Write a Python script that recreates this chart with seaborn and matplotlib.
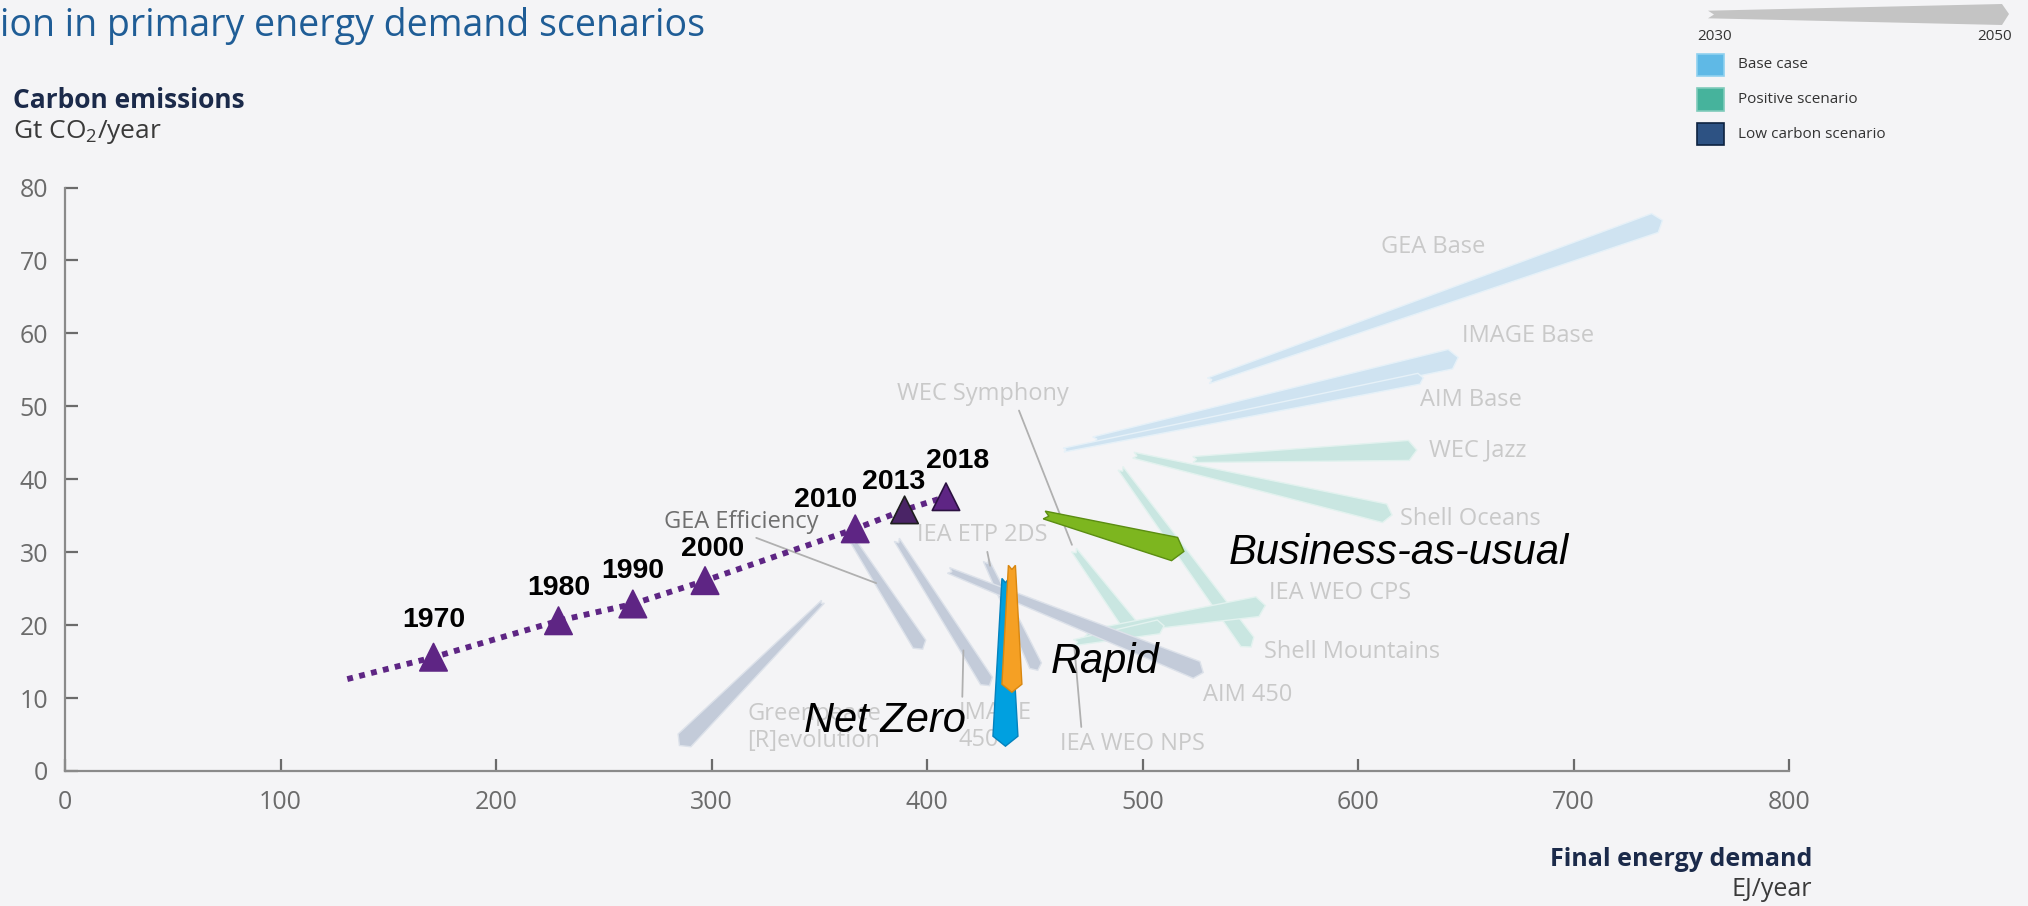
import numpy as np
import matplotlib
matplotlib.use("Agg")
import matplotlib.pyplot as plt
import seaborn as sns
from matplotlib.patches import Polygon

# historical carbon emissions against final energy demand
hist_years = ["1970", "1980", "1990", "2000", "2010", "2013", "2018"]
hist_energy = [171, 229, 263.5, 297, 366.7, 389.6, 408.8]
hist_co2 = [15.6, 20.6, 22.9, 26.1, 33.2, 35.8, 37.6]
trend_energy = [131, 171, 229, 263.5, 297, 366.7, 389.6, 408.8]
trend_co2 = [12.6, 15.6, 20.6, 22.9, 26.1, 33.2, 35.8, 37.6]

# scenario wedges, 2030 point -> 2050 point
scen_names = ["GEA Base", "IMAGE Base", "AIM Base", "WEC Jazz", "Shell Oceans",
              "Shell Mountains", "WEC Symphony", "IEA WEO CPS", "IEA WEO NPS",
              "Greenpeace\n[R]evolution", "GEA Efficiency", "IMAGE\n450",
              "IEA ETP 2DS", "AIM 450", "Business-as-usual", "Net Zero", "Rapid"]
scen_group = ["base", "base", "base", "positive", "positive",
              "positive", "positive", "positive", "positive",
              "low", "low", "low", "low", "low", "bau", "netzero", "rapid"]
scen_x2030 = [530.6, 477.2, 463.4, 523.4, 495.8, 489.8, 468.2, 473.0, 468.2,
              351.7, 365.5, 386.0, 427.4, 410.0, 454.4, 436.4, 439.4]
scen_y2030 = [53.5, 45.4, 44.0, 42.7, 43.3, 41.5, 30.3, 18.8, 17.6,
              23.2, 31.6, 31.7, 28.9, 27.5, 35.1, 26.4, 28.2]
scen_x2050 = [741.3, 646.5, 630.3, 627.3, 615.8, 550.4, 498.2, 557.0, 510.0,
              285.1, 398.0, 429.0, 451.4, 528.2, 519.2, 436.4, 439.4]
scen_y2050 = [75.5, 56.7, 53.9, 44.0, 35.1, 17.0, 18.4, 22.7, 19.9,
              3.5, 16.7, 11.7, 13.8, 13.5, 30.1, 3.4, 10.8]

legend_labels = ["Base case", "Positive scenario", "Low carbon scenario"]

# styles
BG = "#f4f4f6"
PURPLE = "#5e2584"
fill = {"base": "#cfe3f1", "positive": "#c9e6e1", "low": "#c3cbd9",
        "bau": "#7db61f", "netzero": "#00a0e0", "rapid": "#f5a024"}
edge = {"base": "#e6f1f8", "positive": "#e3f2ef", "low": "#dde2ea",
        "bau": "#5b8d12", "netzero": "#0582bd", "rapid": "#d9870f"}
# tail / head widths in pixels
w_start = [6, 6, 4, 6, 6, 6, 6, 6, 6, 4, 6, 6, 6, 6, 8, 7, 7]
w_end = [20, 20, 11, 20, 19, 16, 16, 20, 14, 18, 15, 14, 13, 18, 24, 25, 20]
# label: anchor fraction along wedge, dx, dy (px), ha, leader relpos
label_spec = {
    "GEA Base": (1, -282, -27, "left", None),
    "IMAGE Base": (1, 4, 21, "left", None),
    "AIM Base": (1, -3, -22, "left", None),
    "WEC Jazz": (1, 12, 0, "left", None),
    "Shell Oceans": (1, 8, -4, "left", None),
    "Shell Mountains": (1, 13, -5, "left", None),
    "WEC Symphony": (0, -177, 156, "left", (0.7, 0)),
    "IEA WEO CPS": (1, 4, 12, "left", None),
    "IEA WEO NPS": (0, -14, -101, "left", (0.15, 1)),
    "Greenpeace\n[R]evolution": (1, 68, 18, "left", None),
    "GEA Efficiency": (0.41, -217, 63, "left", (0.53, 0)),
    "IMAGE\n450": (0.72, -5, -82, "left", (0.05, 1)),
    "IEA ETP 2DS": (0.1, -74, 36, "left", (0.53, 0)),
    "AIM 450": (1, 0, -22, "left", None),
    "Business-as-usual": (1, 45, -2, "left", None),
    "Net Zero": (1, -40, 25, "right", None),
    "Rapid": (1, 39, 30, "left", None),
}
year_offsets = [(0, 37), (0, 33), (0, 33), (8, 32), (-30, 29), (-11, 28), (12, 36)]
year_face = ["#5e2584"] * 5 + ["#4a2466", "#5e2584"]
year_edge = [PURPLE] * 5 + ["#1e1e1e", "#2b1141"]

sns.set_theme(style="ticks")
plt.rcParams["font.family"] = ["Open Sans", "DejaVu Sans"]
plt.rcParams["mathtext.default"] = "regular"

W, H = 2028, 906
fig = plt.figure(figsize=(W / 100, H / 100), dpi=100, facecolor=BG)
ax = fig.add_axes([65 / W, 135 / H, (1789 - 65) / W, (771 - 187.5) / H])
ax.set_facecolor(BG)
ax.set_xlim(0, 800)
ax.set_ylim(0, 80)
ax.set_xticks(range(0, 801, 100))
ax.set_yticks(range(0, 81, 10))
sns.despine(ax=ax)
for s in ["left", "bottom"]:
    ax.spines[s].set_color("#8a8a8a")
    ax.spines[s].set_linewidth(1.6)
ax.tick_params(direction="in", length=9, width=1.6, color="#6b6b6b",
               labelsize=18, labelcolor="#6b6b6b")
ax.tick_params(axis="x", pad=14)
ax.tick_params(axis="y", pad=12)


def wedge_points(x0, y0, x1, y1, w0, w1):
    p0 = ax.transData.transform((x0, y0))
    p1 = ax.transData.transform((x1, y1))
    d = p1 - p0
    u = d / np.hypot(*d)
    n = np.array([-u[1], u[0]])
    h = 0.4 * w1
    pts = [p0 + n * w0 / 2, p1 - u * h + n * w1 / 2, p1,
           p1 - u * h - n * w1 / 2, p0 - n * w0 / 2, p0 + u * w0 * 0.6]
    return ax.transData.inverted().transform(pts)


bright = ("bau", "netzero", "rapid")
for i, name in enumerate(scen_names):
    g = scen_group[i]
    pts = wedge_points(scen_x2030[i], scen_y2030[i], scen_x2050[i], scen_y2050[i],
                       w_start[i], w_end[i])
    ax.add_patch(Polygon(pts, closed=True, facecolor=fill[g], edgecolor=edge[g],
                         lw=1.0, zorder=4 if g in bright else 2))

    t, dx, dy, ha, rel = label_spec[name]
    xy = (scen_x2030[i] + t * (scen_x2050[i] - scen_x2030[i]),
          scen_y2030[i] + t * (scen_y2050[i] - scen_y2030[i]))
    if g in bright:
        ax.annotate(name, xy, xytext=(dx, dy), textcoords="offset pixels",
                    ha=ha, va="center", fontsize=30, style="italic",
                    family=["Liberation Sans"], color="black", zorder=8)
    else:
        col = "#6f6f6f" if name == "GEA Efficiency" else "#c9c9c9"
        props = None
        if rel is not None:
            props = dict(arrowstyle="-", color="#b0b0b0", lw=1.3, relpos=rel,
                         shrinkA=1, shrinkB=4)
        ax.annotate(name, xy, xytext=(dx, dy), textcoords="offset pixels",
                    ha=ha, va="center", fontsize=17, color=col,
                    linespacing=1.15, arrowprops=props, zorder=3)

# historical path
sns.lineplot(x=trend_energy, y=trend_co2, ax=ax, sort=False, estimator=None,
             color=PURPLE, lw=4.2, linestyle=(0, (1, 1.1)), zorder=5)
sns.scatterplot(x=hist_energy, y=hist_co2, hue=hist_years,
                palette=dict(zip(hist_years, year_face)), marker="^", s=390,
                edgecolor=year_edge, linewidth=1.2, legend=False, ax=ax, zorder=6)
for yr, xv, yv, off in zip(hist_years, hist_energy, hist_co2, year_offsets):
    ax.annotate(yr, (xv, yv), xytext=off, textcoords="offset pixels",
                ha="center", va="center", fontsize=20.5, fontweight="bold",
                family=["Liberation Sans"], color="black", zorder=7)

# titles and axis labels
fig.text(0, 1 - 26 / H, "ion in primary energy demand scenarios", fontsize=27,
         color="#1f5d96", va="center", ha="left")
fig.text(13 / W, 1 - 101 / H, "Carbon emissions", fontsize=19, fontweight="bold",
         color="#1b2a4a", va="center")
fig.text(13 / W, 1 - 132 / H, "Gt CO$_2$/year", fontsize=19, color="#3a3a3a",
         va="center")
fig.text(1812 / W, 1 - 860 / H, "Final energy demand", fontsize=18,
         fontweight="bold", color="#1b2a4a", va="center", ha="right")
fig.text(1812 / W, 1 - 890 / H, "EJ/year", fontsize=18, color="#3a3a3a",
         va="center", ha="right")

# legend: time arrow and colour keys
arrow_px = [(1708, 10.7), (2002, 4), (2009, 14), (2002, 25), (1708, 18.3), (1714, 14.5)]
fig.add_artist(Polygon([(x / W, 1 - y / H) for x, y in arrow_px], closed=True,
                       facecolor="#c4c4c4", edgecolor="none",
                       transform=fig.transFigure))
fig.text(1697 / W, 1 - 37 / H, "2030", fontsize=11, color="#333", va="center")
fig.text(2012 / W, 1 - 37 / H, "2050", fontsize=11, color="#333", va="center",
         ha="right")
key_face = ["#5fb9e6", "#46b39c", "#2d5283"]
key_edge = ["#8fd0ef", "#7fcbbb", "#0d2240"]
for k, (lab, fc, ec) in enumerate(zip(legend_labels, key_face, key_edge)):
    yc = 65 + 34.5 * k
    fig.add_artist(plt.Rectangle((1697 / W, 1 - (yc + 11) / H), 27 / W, 22 / H,
                                 facecolor=fc, edgecolor=ec, lw=1.2,
                                 transform=fig.transFigure))
    fig.text(1738 / W, 1 - yc / H, lab, fontsize=11, color="#333", va="center")

fig.savefig("out.png", dpi=100, facecolor=BG)
